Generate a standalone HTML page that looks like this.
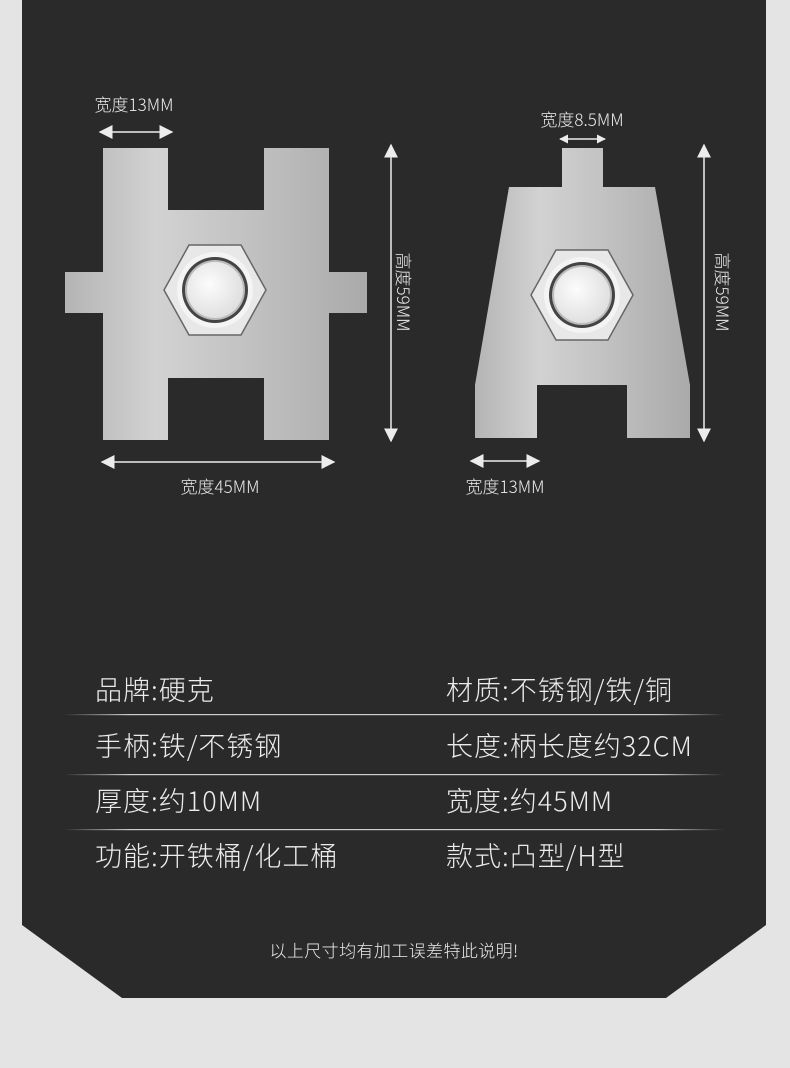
<!DOCTYPE html>
<html><head><meta charset="utf-8"><style>
html,body{margin:0;padding:0;background:#e4e4e4;}
body{width:790px;height:1068px;overflow:hidden;}
svg{display:block}
text{font-family:"Noto Sans CJK SC","Liberation Sans",sans-serif;font-weight:300;fill:#ececec;}
</style></head><body>
<svg width="790" height="1068" viewBox="0 0 790 1068">
<defs>
<linearGradient id="metal" x1="0" y1="0" x2="1" y2="0">
<stop offset="0" stop-color="#b4b4b4"/><stop offset="0.3" stop-color="#d2d2d2"/><stop offset="0.6" stop-color="#c2c2c2"/><stop offset="1" stop-color="#aaaaaa"/>
</linearGradient>
<linearGradient id="ln" x1="0" y1="0" x2="1" y2="0">
<stop offset="0" stop-color="#ccc" stop-opacity="0"/><stop offset="0.1" stop-color="#ccc"/><stop offset="0.9" stop-color="#ccc"/><stop offset="1" stop-color="#ccc" stop-opacity="0"/>
</linearGradient>
<radialGradient id="cap" cx="0.4" cy="0.4" r="0.7"><stop offset="0" stop-color="#fcfcfc"/><stop offset="1" stop-color="#dcdcdc"/></radialGradient>
<marker id="ar" viewBox="0 0 10 10" refX="9" refY="5" markerWidth="9" markerHeight="9" markerUnits="userSpaceOnUse" orient="auto-start-reverse"><path d="M0,0L10,5L0,10z" fill="#ececec"/></marker>
<marker id="arL" viewBox="0 0 10 10" refX="9" refY="5" markerWidth="14" markerHeight="14" markerUnits="userSpaceOnUse" orient="auto-start-reverse"><path d="M0,0L10,5L0,10z" fill="#ececec"/></marker>
</defs>
<polygon points="22,0 766,0 766,925 666,998 122,998 22,925" fill="#2a2a2a"/>

<path d="M103,148H168V210H264V148H329V272H367V313H329V440H264V378H168V440H103V313H65V272H103Z" fill="url(#metal)"/>
<path d="M562,148H603V187H655L690,385V438H627V385H537V438H475V385L509,187H562Z" fill="url(#metal)"/>

<g transform="translate(215,290)">
<polygon points="-51,0 -26,-45 26,-45 51,0 26,45 -26,45" fill="#e8e8e8" stroke="#666" stroke-width="1.5"/>
<circle r="38" fill="#f4f4f4"/><circle r="33" fill="#444"/><circle r="30" fill="#bbb"/><circle r="28" fill="url(#cap)"/>
</g>
<g transform="translate(582,295)">
<polygon points="-51,0 -26,-45 26,-45 51,0 26,45 -26,45" fill="#e8e8e8" stroke="#666" stroke-width="1.5"/>
<circle r="38" fill="#f4f4f4"/><circle r="33" fill="#444"/><circle r="30" fill="#bbb"/><circle r="28" fill="url(#cap)"/>
</g>

<g stroke="#ececec" stroke-width="1.5" fill="none">
<line x1="100" y1="132" x2="172" y2="132" marker-start="url(#arL)" marker-end="url(#arL)"/>
<line x1="391" y1="145" x2="391" y2="441" marker-start="url(#arL)" marker-end="url(#arL)"/>
<line x1="102" y1="462" x2="334" y2="462" marker-start="url(#arL)" marker-end="url(#arL)"/>
<line x1="560" y1="139" x2="605" y2="139" marker-start="url(#ar)" marker-end="url(#ar)"/>
<line x1="704" y1="145" x2="704" y2="441" marker-start="url(#arL)" marker-end="url(#arL)"/>
<line x1="471" y1="461" x2="539" y2="461" marker-start="url(#arL)" marker-end="url(#arL)"/>
</g>
<g font-size="17">
<text x="134" y="111" text-anchor="middle">宽度13MM</text>
<text x="220" y="493" text-anchor="middle">宽度45MM</text>
<text x="582" y="126" text-anchor="middle">宽度8.5MM</text>
<text x="505" y="493" text-anchor="middle">宽度13MM</text>
<text transform="translate(397,292) rotate(90)" text-anchor="middle">高度59MM</text>
<text transform="translate(716,292) rotate(90)" text-anchor="middle">高度59MM</text>
</g>

<g font-size="27" letter-spacing="1">
<text x="95" y="700">品牌:硬克</text>
<text x="446" y="700">材质:不锈钢/铁/铜</text>
<text x="95" y="756">手柄:铁/不锈钢</text>
<text x="446" y="756">长度:柄长度约32CM</text>
<text x="95" y="811">厚度:约10MM</text>
<text x="446" y="811">宽度:约45MM</text>
<text x="95" y="866">功能:开铁桶/化工桶</text>
<text x="446" y="866">款式:凸型/H型</text>
</g>
<rect x="64" y="714" width="660" height="1.2" fill="url(#ln)"/>
<rect x="64" y="774" width="660" height="1.2" fill="url(#ln)"/>
<rect x="64" y="829" width="660" height="1.2" fill="url(#ln)"/>

<text x="394" y="957" font-size="17" letter-spacing="0.4" text-anchor="middle">以上尺寸均有加工误差特此说明!</text>
</svg>
</body></html>
